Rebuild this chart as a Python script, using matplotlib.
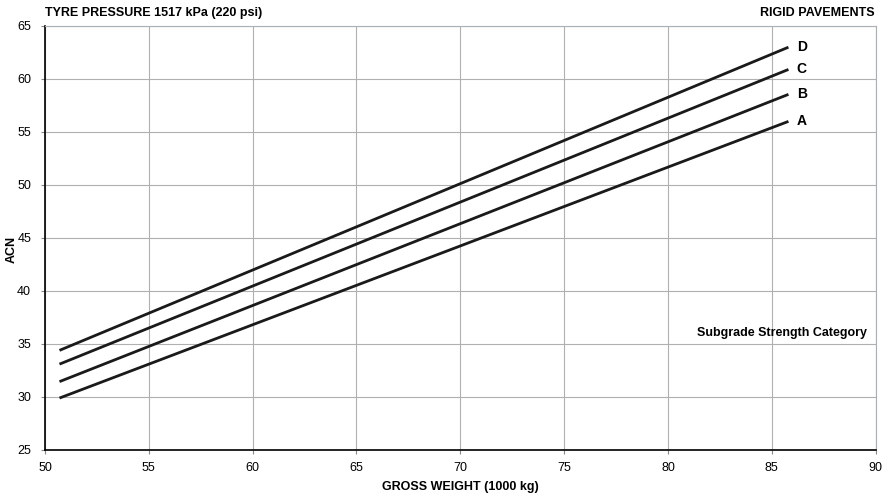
import matplotlib
matplotlib.use("Agg")
import matplotlib.pyplot as plt

plt.rcParams['font.family'] = ['Liberation Sans', 'DejaVu Sans']

# gross weight (1000 kg) at line ends
weight = [50.7, 85.8]
# ACN per subgrade category
acn_a = [29.9, 56.0]
acn_b = [31.45, 58.55]
acn_c = [33.1, 60.9]
acn_d = [34.4, 63.0]
categories = ['A', 'B', 'C', 'D']
series = [acn_a, acn_b, acn_c, acn_d]

fig = plt.figure(figsize=(8.92, 4.98), dpi=100)
ax = fig.add_axes([0.0504, 0.0964, 0.9313, 0.8514])

for name, vals in zip(categories, series):
    ax.plot(weight, vals, color='#1a1a1a', lw=2.0, solid_capstyle='butt')
    ax.text(weight[1] + 0.4, vals[1], name, fontsize=10, fontweight='bold',
            va='center', ha='left')

ax.set_xlim(50, 90)
ax.set_ylim(25, 65)
ax.set_xticks(range(50, 91, 5))
ax.set_yticks(range(25, 66, 5))
ax.grid(True, color='#b0b0b0', lw=0.8)
ax.set_axisbelow(True)
ax.tick_params(labelsize=9, length=3, width=0.8, color='#888888')
ax.tick_params(axis='x', pad=6)
ax.tick_params(axis='y', pad=7)

for s in ['top', 'right']:
    ax.spines[s].set_color('#a8b0b8')
    ax.spines[s].set_linewidth(0.8)
for s in ['left', 'bottom']:
    ax.spines[s].set_color('black')
    ax.spines[s].set_linewidth(1.2)

ax.set_xlabel('GROSS WEIGHT (1000 kg)', fontsize=9, fontweight='bold', labelpad=5)
# y label placed in figure coords so it is not clipped
fig.text(12 / 892, 0.5, 'ACN', fontsize=9, fontweight='bold', rotation=90,
         ha='center', va='center')

ax.text(89.6, 36.0, 'Subgrade Strength Category', fontsize=9,
        fontweight='bold', ha='right', va='center')

fig.text(0.0504, 0.973, 'TYRE PRESSURE 1517 kPa (220 psi)', fontsize=9,
         fontweight='bold', ha='left', va='center')
fig.text(0.981, 0.973, 'RIGID PAVEMENTS', fontsize=9,
         fontweight='bold', ha='right', va='center')

fig.savefig('out.png', dpi=100)
